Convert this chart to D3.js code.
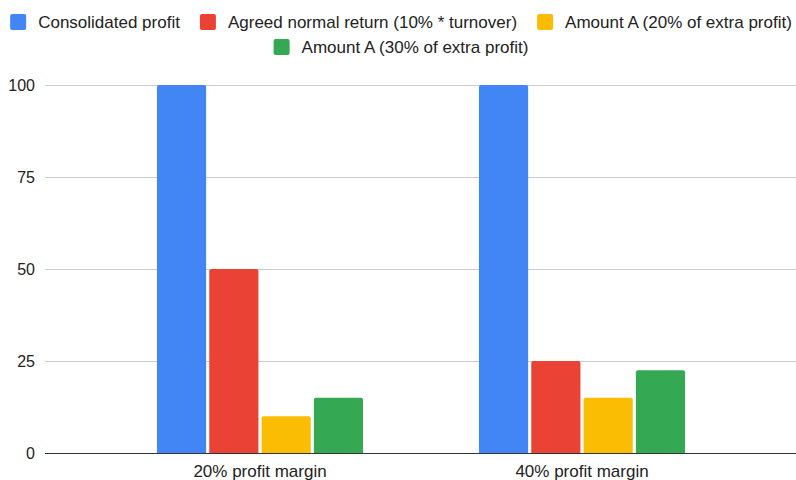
<!DOCTYPE html>
<html>
<head>
<meta charset="utf-8">
<script src="https://cdn.jsdelivr.net/npm/d3@7"></script>
<style>
  body { margin: 0; background: #fff; }
  svg { display: block; font-family: Arial, "Liberation Sans", sans-serif; }
</style>
</head>
<body>
<svg id="chart" width="796" height="480"></svg>
<script>
const categories = ['20% profit margin', '40% profit margin'];
const seriesNames = [
  'Consolidated profit',
  'Agreed normal return (10% * turnover)',
  'Amount A (20% of extra profit)',
  'Amount A (30% of extra profit)'
];
const consolidated = [100, 100];
const normalReturn = [50, 25];
const amountA20 = [10, 15];
const amountA30 = [15, 22.5];
const yTicks = [0, 25, 50, 75, 100];

const colors = ['#4285f4', '#ea4335', '#fbbc04', '#34a853'];
const seriesValues = [consolidated, normalReturn, amountA20, amountA30];

const width = 796, height = 480;
const plot = { left: 45, right: 796, top: 85, bottom: 453 };

const svg = d3.select('#chart');

// scales
const x0 = d3.scaleBand()
  .domain(categories)
  .range([99, 743])
  .paddingInner(0.36)
  .paddingOuter(0.18);

const x1 = d3.scaleBand()
  .domain(d3.range(seriesNames.length))
  .range([0, x0.bandwidth()])
  .paddingInner(0.06);

const y = d3.scaleLinear()
  .domain([0, 100])
  .range([plot.bottom, plot.top]);

// gridlines
svg.append('g')
  .attr('class', 'grid')
  .selectAll('line')
  .data(yTicks.filter(d => d !== 0))
  .join('line')
  .attr('x1', plot.left)
  .attr('x2', plot.right)
  .attr('y1', d => y(d) + 0.5)
  .attr('y2', d => y(d) + 0.5)
  .attr('stroke', '#cccccc')
  .attr('stroke-width', 1);

// y axis labels
const yAxis = d3.axisLeft(y).tickValues(yTicks).tickSize(0).tickPadding(0);
svg.append('g')
  .attr('transform', `translate(35,0)`)
  .call(yAxis)
  .call(g => g.select('.domain').remove())
  .call(g => g.selectAll('text')
    .attr('font-size', 16)
    .attr('font-family', 'Arial, "Liberation Sans", sans-serif')
    .attr('fill', '#222'));

// bars with rounded top corners
const barPath = (x, yTop, w, yBase) => {
  const r = Math.min(2, (yBase - yTop) / 2);
  return `M${x},${yBase}V${yTop + r}Q${x},${yTop} ${x + r},${yTop}H${x + w - r}Q${x + w},${yTop} ${x + w},${yTop + r}V${yBase}Z`;
};

const groups = svg.append('g')
  .attr('class', 'bars')
  .selectAll('g')
  .data(categories)
  .join('g')
  .attr('transform', d => `translate(${x0(d)},0)`);

groups.selectAll('path')
  .data((d, ci) => seriesValues.map((vals, si) => ({ si, value: vals[ci] })))
  .join('path')
  .attr('fill', d => colors[d.si])
  .attr('d', d => barPath(x1(d.si), y(d.value), x1.bandwidth(), y(0)));

// baseline
svg.append('line')
  .attr('x1', plot.left)
  .attr('x2', plot.right)
  .attr('y1', y(0) + 0.5)
  .attr('y2', y(0) + 0.5)
  .attr('stroke', '#333')
  .attr('stroke-width', 1);

// x axis labels
const xAxis = d3.axisBottom(x0).tickSize(0).tickPadding(0);
svg.append('g')
  .attr('transform', `translate(0,${plot.bottom + 12})`)
  .call(xAxis)
  .call(g => g.select('.domain').remove())
  .call(g => g.selectAll('text')
    .attr('font-size', 17)
    .attr('font-family', 'Arial, "Liberation Sans", sans-serif')
    .attr('fill', '#222'));

// legend
const legend = svg.append('g').attr('class', 'legend');
const sq = 16, textGap = 12, itemGap = 20, maxRow = 790;
const items = seriesNames.map((name, i) => {
  const g = legend.append('g');
  g.append('rect')
    .attr('width', sq).attr('height', sq)
    .attr('rx', 2)
    .attr('fill', colors[i]);
  const t = g.append('text')
    .attr('x', sq + textGap)
    .attr('y', sq / 2)
    .attr('dy', '0.35em')
    .attr('font-size', 17)
    .attr('fill', '#222')
    .text(name);
  return { g, w: sq + textGap + t.node().getComputedTextLength() };
});

const rows = [];
let cur = [], curW = 0;
items.forEach(it => {
  const add = cur.length ? itemGap + it.w : it.w;
  if (cur.length && curW + add > maxRow) {
    rows.push({ items: cur, w: curW });
    cur = [it]; curW = it.w;
  } else {
    cur.push(it); curW += add;
  }
});
if (cur.length) rows.push({ items: cur, w: curW });

rows.forEach((row, ri) => {
  let xx = (width - row.w) / 2 + 3;
  row.items.forEach(it => {
    it.g.attr('transform', `translate(${xx},${14 + ri * 25})`);
    xx += it.w + itemGap;
  });
});
</script>
</body>
</html>
